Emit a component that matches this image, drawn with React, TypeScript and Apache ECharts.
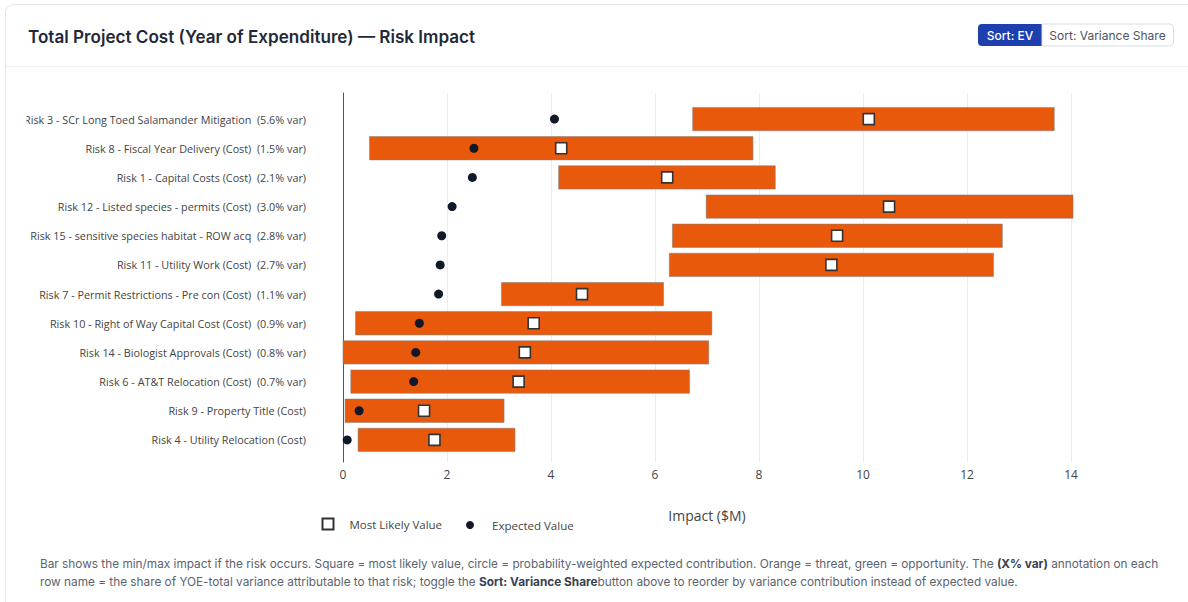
import React, { useEffect, useRef } from "react";
import * as echarts from "echarts";

const categories = [
  "Risk 3 - SCr Long Toed Salamander Mitigation  (5.6% var)",
  "Risk 8 - Fiscal Year Delivery (Cost)  (1.5% var)",
  "Risk 1 - Capital Costs (Cost)  (2.1% var)",
  "Risk 12 - Listed species - permits (Cost)  (3.0% var)",
  "Risk 15 - sensitive species habitat - ROW acq  (2.8% var)",
  "Risk 11 - Utility Work (Cost)  (2.7% var)",
  "Risk 7 - Permit Restrictions - Pre con (Cost)  (1.1% var)",
  "Risk 10 - Right of Way Capital Cost (Cost)  (0.9% var)",
  "Risk 14 - Biologist Approvals (Cost)  (0.8% var)",
  "Risk 6 - AT&T Relocation (Cost)  (0.7% var)",
  "Risk 9 - Property Title (Cost)",
  "Risk 4 - Utility Relocation (Cost)",
];
const minImpact = [6.73, 0.51, 4.15, 6.99, 6.34, 6.28, 3.05, 0.24, 0.0, 0.15, 0.04, 0.29];
const maxImpact = [13.69, 7.89, 8.32, 14.05, 12.69, 12.52, 6.17, 7.1, 7.04, 6.67, 3.1, 3.31];
const mostLikely = [10.12, 4.2, 6.24, 10.51, 9.51, 9.4, 4.6, 3.67, 3.5, 3.38, 1.56, 1.76];
const expectedValue = [4.07, 2.52, 2.49, 2.1, 1.9, 1.87, 1.84, 1.47, 1.4, 1.36, 0.31, 0.08];
const xTicks = [0, 2, 4, 6, 8, 10, 12, 14];

const TITLE = "Total Project Cost (Year of Expenditure) \u2014 Risk Impact";
const NOTE1 =
  "Bar shows the min/max impact if the risk occurs. Square = most likely value, circle = probability-weighted expected contribution. Orange = threat, green = opportunity. The {b|(X% var)} annotation on each";
const NOTE2 =
  "row name = the share of YOE-total variance attributable to that risk; toggle the {b|Sort: Variance Share}button above to reorder by variance contribution instead of expected value.";

export default function App() {
  const ref = useRef<HTMLDivElement>(null);
  useEffect(() => {
    if (!ref.current) return;
    const chart = echarts.init(ref.current, null, { renderer: "svg" });
    const dataMax = Math.max(...maxImpact);
    const tickMax = xTicks[xTicks.length - 1];
    const FONT = "'Open Sans', sans-serif";
    const UI = "Inter, sans-serif";
    const barData = categories.map((_, i) => [i, minImpact[i], maxImpact[i]]);
    const mlData = categories.map((_, i) => [mostLikely[i], i]);
    const evData = categories.map((_, i) => [expectedValue[i], i]);
    const legendText = { color: "#444", fontSize: 11.5, fontFamily: FONT };

    chart.setOption({
      animation: false,
      backgroundColor: "transparent",
      textStyle: { fontFamily: FONT },
      grid: [
        { left: 343, right: 117, top: 93, bottom: 140 },
        { left: 343, right: 115, top: 104.5, bottom: 147.5 },
      ],
      xAxis: [
        {
          type: "value",
          gridIndex: 0,
          min: 0,
          max: tickMax,
          interval: 2,
          axisLine: { show: false },
          axisTick: { show: false },
          splitLine: { show: true, lineStyle: { color: "#ececec", width: 1 } },
          axisLabel: { color: "#444", fontSize: 12, fontFamily: FONT, margin: 6 },
          name: "Impact ($M)",
          nameLocation: "middle",
          nameGap: 46,
          nameTextStyle: { color: "#444", fontSize: 14, fontFamily: FONT },
        },
        {
          type: "value",
          gridIndex: 1,
          min: 0,
          max: dataMax,
          show: false,
        },
      ],
      yAxis: [
        {
          type: "value",
          gridIndex: 0,
          min: 0,
          max: 1,
          axisLine: { show: true, lineStyle: { color: "#555", width: 1 } },
          axisTick: { show: false },
          axisLabel: { show: false },
          splitLine: { show: false },
        },
        {
          type: "category",
          gridIndex: 1,
          data: categories,
          inverse: true,
          axisLine: { show: false },
          axisTick: { show: false },
          splitLine: { show: false },
          axisLabel: { color: "#444", fontSize: 10.8, fontFamily: FONT, margin: 37 },
        },
      ],
      legend: [
        {
          data: ["Most Likely Value"],
          left: 321.5,
          top: 517.5,
          padding: 0,
          itemWidth: 11,
          itemHeight: 11,
          textStyle: { ...legendText, padding: [0, 0, 0, 11] },
        },
        {
          data: ["Expected Value"],
          left: 466,
          top: 519,
          padding: 0,
          itemWidth: 8,
          itemHeight: 8,
          textStyle: { ...legendText, padding: [0, 0, 0, 13] },
        },
      ],
      series: [
        {
          type: "custom",
          name: "Impact Range",
          xAxisIndex: 1,
          yAxisIndex: 1,
          encode: { x: [1, 2], y: 0 },
          data: barData,
          z: 2,
          renderItem: (params: any, api: any) => {
            const idx = api.value(0);
            const s = api.coord([api.value(1), idx]);
            const e = api.coord([api.value(2), idx]);
            const h = api.size([0, 1])[1] * 0.8;
            return {
              type: "rect",
              shape: { x: s[0], y: s[1] - h / 2, width: e[0] - s[0], height: h },
              style: { fill: "#e8590c", stroke: "rgba(130,130,130,0.55)", lineWidth: 1 },
            };
          },
        },
        {
          type: "scatter",
          name: "Expected Value",
          xAxisIndex: 1,
          yAxisIndex: 1,
          data: evData,
          symbol: "circle",
          symbolSize: 9,
          itemStyle: { color: "#111827", opacity: 1 },
          z: 4,
        },
        {
          type: "scatter",
          name: "Most Likely Value",
          xAxisIndex: 1,
          yAxisIndex: 1,
          data: mlData,
          symbol: "rect",
          symbolSize: 11,
          itemStyle: { color: "#ffffff", borderColor: "#333", borderWidth: 1.6, opacity: 1 },
          z: 5,
        },
      ],
      graphic: [
        {
          type: "rect",
          z: -10,
          silent: true,
          shape: { x: 5.5, y: 4.5, width: 1200, height: 640, r: 8 },
          style: { fill: "#ffffff", stroke: "#e3e6ea", lineWidth: 1 },
        },
        {
          type: "line",
          z: -9,
          silent: true,
          shape: { x1: 6, y1: 66.5, x2: 1188, y2: 66.5 },
          style: { stroke: "#eef0f3", lineWidth: 1 },
        },
        {
          type: "rect",
          z: 100,
          silent: true,
          shape: { x: 6, y: 108, width: 20.5, height: 22 },
          style: { fill: "#ffffff" },
        },
        {
          type: "text",
          x: 28,
          y: 36,
          style: {
            text: TITLE,
            fontFamily: UI,
            fontWeight: 600,
            fontSize: 17.1,
            fill: "#1f2937",
            verticalAlign: "middle",
          },
        },
        {
          type: "rect",
          shape: { x: 978, y: 24, width: 64, height: 22, r: [4, 0, 0, 4] },
          style: { fill: "#1e40af" },
        },
        {
          type: "text",
          x: 1010,
          y: 35,
          style: {
            text: "Sort: EV",
            fontFamily: UI,
            fontWeight: 500,
            fontSize: 12,
            fill: "#ffffff",
            align: "center",
            verticalAlign: "middle",
          },
        },
        {
          type: "rect",
          shape: { x: 1042, y: 24, width: 131.5, height: 22, r: [0, 4, 4, 0] },
          style: { fill: "#ffffff", stroke: "#d9dde3", lineWidth: 1 },
        },
        {
          type: "text",
          x: 1107.5,
          y: 35,
          style: {
            text: "Sort: Variance Share",
            fontFamily: UI,
            fontSize: 12,
            fill: "#4b5563",
            align: "center",
            verticalAlign: "middle",
          },
        },
        {
          type: "text",
          x: 40,
          y: 564,
          style: {
            text: NOTE1,
            fontFamily: UI,
            fontSize: 11.8,
            fill: "#5b6370",
            verticalAlign: "middle",
            rich: { b: { fontFamily: UI, fontSize: 11.8, fontWeight: 700, fill: "#374151" } },
          },
        },
        {
          type: "text",
          x: 40,
          y: 582,
          style: {
            text: NOTE2,
            fontFamily: UI,
            fontSize: 11.8,
            fill: "#5b6370",
            verticalAlign: "middle",
            rich: { b: { fontFamily: UI, fontSize: 11.8, fontWeight: 700, fill: "#374151" } },
          },
        },
      ],
    });
    return () => chart.dispose();
  }, []);
  return (
    <div
      ref={ref}
      style={{ position: "fixed", left: 0, top: 0, width: 1188, height: 602, background: "#fff" }}
    />
  );
}
